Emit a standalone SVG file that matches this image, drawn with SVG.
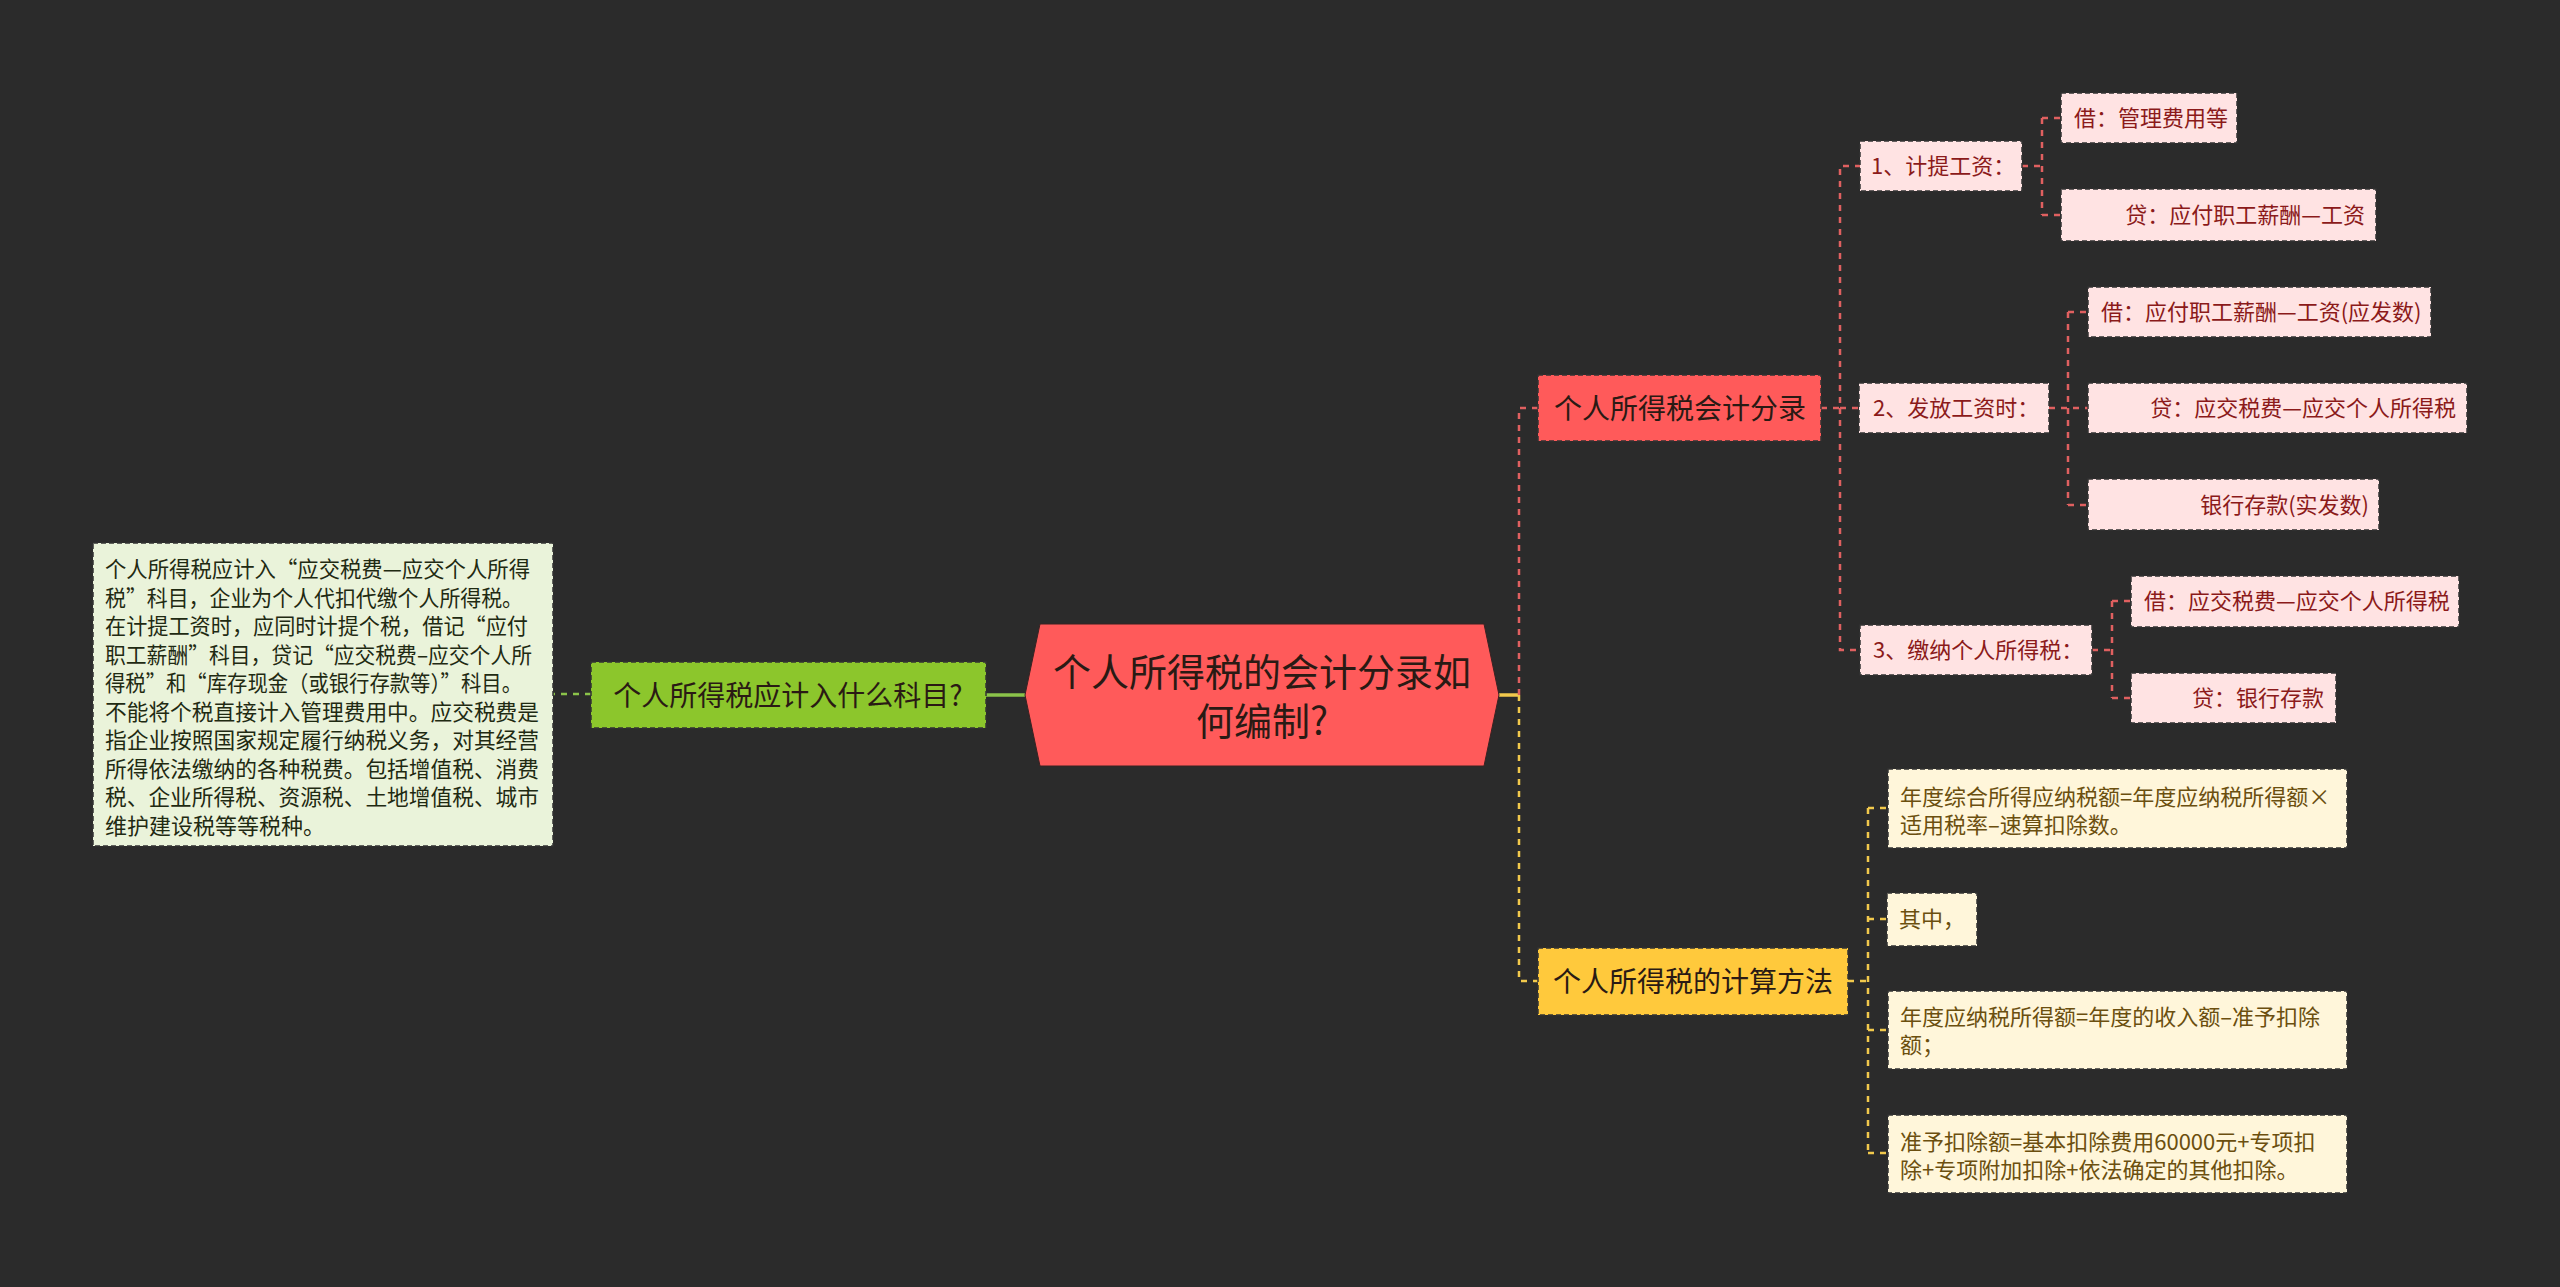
<svg xmlns="http://www.w3.org/2000/svg" width="2560" height="1287" viewBox="0 0 2560 1287">
<style>
text{font-family:"Noto Sans CJK SC","Noto Sans",sans-serif;}
.box{stroke:#333;stroke-width:1.5;stroke-dasharray:5 3;}
.red1{fill:#FF5A5A;}
.pink{fill:#FFE3E3;}
.yel1{fill:#FFC93C;}
.cream{fill:#FFF6DA;}
.grn1{fill:#8CC62C;}
.lgrn{fill:#EAF3DA;}
.t28{font-size:28px;fill:#2a1a14;}
.tr{font-size:22px;fill:#8B1A1A;}
.ty{font-size:22px;fill:#6B4F0F;}
.tg{font-size:22px;fill:#1F2A12;}
.cr{fill:none;stroke:#E06060;stroke-width:2.5;stroke-dasharray:6 6;}
.cy{fill:none;stroke:#F2C94C;stroke-width:2.5;stroke-dasharray:6 6;}
.cg{fill:none;stroke:#8BC34A;stroke-width:2.5;stroke-dasharray:6 6;}
</style>
<rect width="2560" height="1287" fill="#2B2B2B"/>
<g id="connectors">
<path class="cg" d="M591,694 H553"/>
<path d="M1025,695 H986" fill="none" stroke="#8BC34A" stroke-width="3.5"/>
<path d="M1499,695 H1519" fill="none" stroke="#F2C94C" stroke-width="3.5"/>
<path class="cr" d="M1519,695 V408 H1538"/>
<path class="cy" d="M1519,695 V981 H1538"/>
<path class="cr" d="M1821,408 H1840 V166 H1860"/>
<path class="cr" d="M1840,408 H1859"/>
<path class="cr" d="M1840,408 V650 H1860"/>
<path class="cr" d="M2022,166 H2042 M2042,118 V215 M2042,118 H2061 M2042,215 H2061"/>
<path class="cr" d="M2049,408 H2088 M2068,312 V505 M2068,312 H2088 M2068,505 H2088"/>
<path class="cr" d="M2092,650 H2112 M2112,601 V698 M2112,601 H2131 M2112,698 H2131"/>
<path class="cy" d="M1848,981 H1868 M1868,808 V1153 M1868,808 H1888 M1868,919 H1887 M1868,1030 H1888 M1868,1153 H1888"/>
</g>
<g id="root">
<polygon points="1040,624 1484,624 1499,695 1484,766 1040,766 1025,695" fill="#FF5A5A" stroke="#3a2222" stroke-width="1"/>
<text x="1262" y="686" font-size="38" fill="#2a1a14" text-anchor="middle">个人所得税的会计分录如</text>
<text x="1262" y="735" font-size="38" fill="#2a1a14" text-anchor="middle">何编制?</text>
</g>
<g id="n-green">
<rect class="box grn1" x="591" y="662" width="395" height="66"/>
<text class="t28" x="788" y="706" text-anchor="middle">个人所得税应计入什么科目?</text>
</g>
<g id="n-green-leaf">
<rect class="box lgrn" x="93" y="543" width="460" height="303"/>
<text class="tg" x="105" y="577" textLength="425" lengthAdjust="spacingAndGlyphs">个人所得税应计入“应交税费—应交个人所得</text>
<text class="tg" x="105" y="605.5" textLength="418" lengthAdjust="spacingAndGlyphs">税”科目，企业为个人代扣代缴个人所得税。</text>
<text class="tg" x="105" y="634" textLength="423" lengthAdjust="spacingAndGlyphs">在计提工资时，应同时计提个税，借记“应付</text>
<text class="tg" x="105" y="662.5" textLength="427" lengthAdjust="spacingAndGlyphs">职工薪酬”科目，贷记“应交税费–应交个人所</text>
<text class="tg" x="105" y="691" textLength="417" lengthAdjust="spacingAndGlyphs">得税”和“库存现金（或银行存款等）”科目。</text>
<text class="tg" x="105" y="719.5" textLength="434" lengthAdjust="spacingAndGlyphs">不能将个税直接计入管理费用中。应交税费是</text>
<text class="tg" x="105" y="748" textLength="434" lengthAdjust="spacingAndGlyphs">指企业按照国家规定履行纳税义务，对其经营</text>
<text class="tg" x="105" y="776.5" textLength="434" lengthAdjust="spacingAndGlyphs">所得依法缴纳的各种税费。包括增值税、消费</text>
<text class="tg" x="105" y="805" textLength="434" lengthAdjust="spacingAndGlyphs">税、企业所得税、资源税、土地增值税、城市</text>
<text class="tg" x="105" y="833.5">维护建设税等等税种。</text>
</g>
<g id="n-red">
<rect class="box red1" x="1538" y="375" width="283" height="66"/>
<text class="t28" x="1680" y="418.5" text-anchor="middle">个人所得税会计分录</text>
</g>
<g id="n-r1">
<rect class="box pink" x="1860" y="141" width="162" height="50"/>
<text class="tr" x="1871" y="174">1、计提工资：</text>
</g>
<g id="n-r1a">
<rect class="box pink" x="2061" y="93" width="176" height="50"/>
<text class="tr" x="2074" y="126">借：管理费用等</text>
</g>
<g id="n-r1b">
<rect class="box pink" x="2061" y="189" width="315" height="52"/>
<text class="tr" x="2365" y="223" text-anchor="end">贷：应付职工薪酬—工资</text>
</g>
<g id="n-r2">
<rect class="box pink" x="1859" y="383" width="190" height="50"/>
<text class="tr" x="1873" y="416">2、发放工资时：</text>
</g>
<g id="n-r2a">
<rect class="box pink" x="2088" y="287" width="343" height="50"/>
<text class="tr" x="2101" y="320">借：应付职工薪酬—工资(应发数)</text>
</g>
<g id="n-r2b">
<rect class="box pink" x="2088" y="383" width="379" height="50"/>
<text class="tr" x="2456" y="416" text-anchor="end">贷：应交税费—应交个人所得税</text>
</g>
<g id="n-r2c">
<rect class="box pink" x="2088" y="479" width="291" height="51"/>
<text class="tr" x="2369" y="513" text-anchor="end">银行存款(实发数)</text>
</g>
<g id="n-r3">
<rect class="box pink" x="1860" y="625" width="232" height="50"/>
<text class="tr" x="1873" y="658">3、缴纳个人所得税：</text>
</g>
<g id="n-r3a">
<rect class="box pink" x="2131" y="576" width="328" height="51"/>
<text class="tr" x="2144" y="609">借：应交税费—应交个人所得税</text>
</g>
<g id="n-r3b">
<rect class="box pink" x="2131" y="673" width="205" height="50"/>
<text class="tr" x="2324" y="706" text-anchor="end">贷：银行存款</text>
</g>
<g id="n-yellow">
<rect class="box yel1" x="1538" y="948" width="310" height="67"/>
<text class="t28" x="1693" y="991.5" text-anchor="middle">个人所得税的计算方法</text>
</g>
<g id="n-y1">
<rect class="box cream" x="1888" y="769" width="459" height="79"/>
<text class="ty" x="1900" y="805">年度综合所得应纳税额=年度应纳税所得额×</text>
<text class="ty" x="1900" y="833">适用税率–速算扣除数。</text>
</g>
<g id="n-y2">
<rect class="box cream" x="1887" y="893" width="90" height="53"/>
<text class="ty" x="1899" y="927">其中，</text>
</g>
<g id="n-y3">
<rect class="box cream" x="1888" y="991" width="459" height="78"/>
<text class="ty" x="1900" y="1025">年度应纳税所得额=年度的收入额–准予扣除</text>
<text class="ty" x="1900" y="1053">额；</text>
</g>
<g id="n-y4">
<rect class="box cream" x="1888" y="1115" width="459" height="78"/>
<text class="ty" x="1900" y="1150">准予扣除额=基本扣除费用60000元+专项扣</text>
<text class="ty" x="1900" y="1178">除+专项附加扣除+依法确定的其他扣除。</text>
</g>
</svg>
